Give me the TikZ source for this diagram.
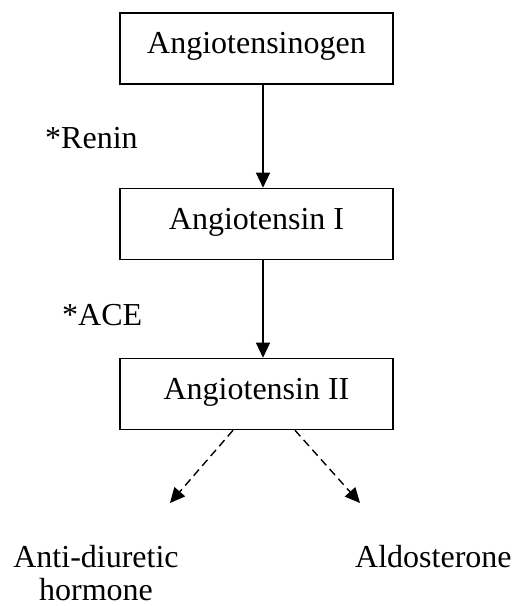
\documentclass[tikz,border=0pt]{standalone}
\usepackage{fontspec}
\setmainfont{Liberation Serif}
\usetikzlibrary{arrows.meta}
\begin{document}
\begin{tikzpicture}[x=1pt,y=-1pt,
  every node/.style={font=\fontsize{32}{36}\selectfont},
  box/.style={draw,line width=1.6pt,minimum width=273pt,minimum height=71pt,inner sep=0pt,text height=21pt,text depth=11pt},
  flow/.style={line width=1.4pt,-{Triangle[length=15pt,width=14pt]}},
  side/.style={line width=1.4pt,dash pattern=on 8pt off 5pt,-{Triangle[length=15pt,width=14pt]}},
  lbl/.style={anchor=base west,inner sep=0pt}]
\useasboundingbox (0,0) rectangle (513,606);
\node[box] (b1) at (256.5,48.5) {Angiotensinogen};
\node[box] (b2) at (256.5,224) {Angiotensin I};
\node[box] (b3) at (256.5,394) {Angiotensin II};
\draw[flow] (b1.south -| 263,0) -- (b2.north -| 263,0);
\draw[flow] (b2.south -| 263,0) -- (b3.north -| 263,0);
\node[lbl] (renin) at (45,148) {*Renin};
\node[lbl] (ace) at (62,325) {*ACE};
\node[anchor=base,inner sep=0pt,align=center,font=\fontsize{32}{33}\selectfont] (adh) at (96,600) {Anti-diuretic\\hormone};
\node[lbl] (aldo) at (355,567) {Aldosterone};
\coordinate (t1) at (170,503);
\coordinate (t2) at (360,503);
\draw[side] (b3.south -| 233,0) -- (t1);
\draw[side] (b3.south -| 295,0) -- (t2);
\end{tikzpicture}
\end{document}
